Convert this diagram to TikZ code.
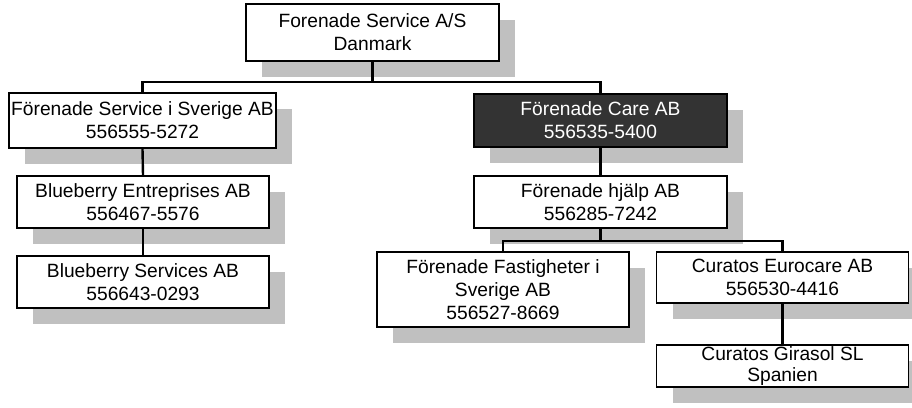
\documentclass[tikz,border=0pt]{standalone}
\usepackage{fontspec}
\setmainfont{Liberation Sans}
\usetikzlibrary{shadows}
\definecolor{shadowgray}{HTML}{C0C0C0}
\definecolor{darkfill}{HTML}{333333}
\begin{document}
\begin{tikzpicture}[x=1pt,y=-1pt,
  orgbox/.style={draw=black, line width=1.1pt, fill=white, align=center, inner sep=0pt,
    minimum width=252pt, minimum height=52pt,
    font=\fontsize{19.2}{23}\selectfont,
    drop shadow={shadow xshift=16pt, shadow yshift=-16pt, fill=shadowgray, opacity=1}},
  darkbox/.style={orgbox, fill=darkfill, text=white},
  link/.style={draw=black, line width=2.4pt}
]
\useasboundingbox (0,0) rectangle (912,407);
\fill[white] (0,0) rectangle (912,407);

\node[orgbox, minimum width=253pt, minimum height=57pt] (top) at (372.5,32.5) {Forenade Service A/S\\Danmark};
\node[orgbox, minimum width=267pt, minimum height=55pt] (fss) at (142.5,120.5) {Förenade Service i Sverige AB\\556555-5272};
\node[orgbox] (bbe) at (143,202) {Blueberry Entreprises AB\\556467-5576};
\node[orgbox] (bbs) at (143,282) {Blueberry Services AB\\556643-0293};
\node[darkbox, minimum width=253pt, minimum height=53pt] (care) at (600.5,120.5) {Förenade Care AB\\556535-5400};
\node[orgbox, minimum width=253pt] (hjalp) at (600.5,202) {Förenade hjälp AB\\556285-7242};
\node[orgbox, minimum height=75pt] (fast) at (503,289.5) {Förenade Fastigheter i\\Sverige AB\\556527-8669};
\node[orgbox, minimum height=51pt] (euro) at (782.5,277.5) {Curatos Eurocare AB\\556530-4416};
\node[orgbox, minimum height=42pt, font=\fontsize{19.2}{21.5}\selectfont] (gira) at (782.5,366) {Curatos Girasol SL\\Spanien};

\coordinate (j1) at (372.5,82);
\coordinate (j2) at (600.5,241);

\draw[link] (top.south) -- (j1);
\draw[link] (fss.north) |- (j1) -| (care.north);
\draw[link] (fss.south) -- (bbe.north);
\draw[link] (bbe.south) -- (bbs.north);
\draw[link] (care.south) -- (hjalp.north);
\draw[link] (hjalp.south) -- (j2);
\draw[link] (fast.north) |- (j2) -| (euro.north);
\draw[link] (euro.south) -- (gira.north);
\end{tikzpicture}
\end{document}
